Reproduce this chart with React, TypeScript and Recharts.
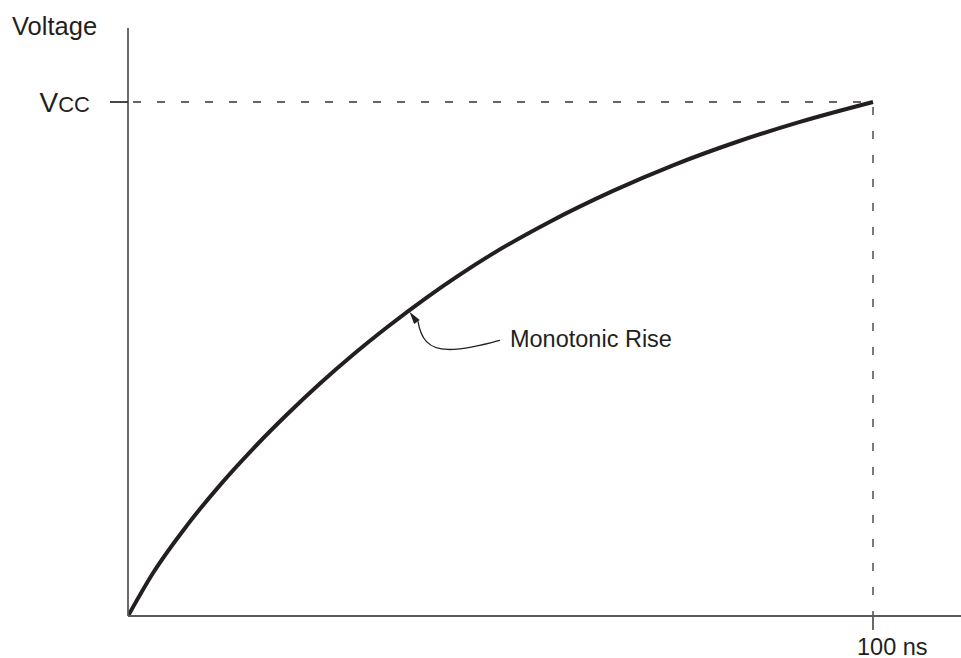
import React from 'react';
import { LineChart, Line, XAxis, YAxis, ReferenceLine, ReferenceDot } from 'recharts';

// Time in ns, voltage as a fraction of VCC
const timeNs = [0, 3.36, 7.92, 12.35, 16.78, 21.34, 25.77, 30.2, 34.77, 40.13, 44.3, 48.59, 56.38, 65.1, 73.15, 81.48, 90.2, 100];
const voltageFrac = [0, 0.0837, 0.1763, 0.2547, 0.3253, 0.392, 0.4523, 0.5082, 0.5617, 0.62, 0.6617, 0.7016, 0.7652, 0.827, 0.8768, 0.9212, 0.9613, 1.0];

const xTicks = [100];
const xTickLabels = ['100 ns'];
const yTicks = [1];
const yTickMain = 'V';
const yTickSub = 'CC';
const yAxisTitle = 'Voltage';
const annotationText = 'Monotonic Rise';
const annotationPoint = { t: 37.9, v: 0.589 };

const xMax = 111.81;
const yMax = 1.144;

const data = timeNs.map((t, i) => ({ t, v: voltageFrac[i] }));

const FONT = '"Liberation Sans", Arial, Helvetica, sans-serif';
const INK = '#231f20';
const AXIS = '#5a5a5a';

const YTick = (props: any) => {
  const { x, y } = props;
  return (
    <text x={x - 20} y={y + 10} textAnchor="end" fontFamily={FONT} fill={INK}>
      <tspan fontSize={28}>{yTickMain}</tspan>
      <tspan fontSize={22}>{yTickSub}</tspan>
    </text>
  );
};

const XTick = (props: any) => {
  const { x, y, payload } = props;
  const idx = xTicks.indexOf(payload.value);
  return (
    <text x={x - 16} y={y + 25} textAnchor="start" fontFamily={FONT} fontSize={23.5} fill={INK}>
      {idx >= 0 ? xTickLabels[idx] : ''}
    </text>
  );
};

const Annotation = (props: any) => {
  const { cx, cy } = props;
  if (cx == null || cy == null) return null;
  const p = (dx: number, dy: number) => `${cx + dx},${cy + dy}`;
  return (
    <g>
      <path
        d={`M ${p(7.6, 8)} C ${p(10.6, 25)} ${p(17.6, 36)} ${p(37.6, 36.2)} C ${p(54.6, 36.7)} ${p(74.6, 30.7)} ${p(89.6, 27.2)}`}
        fill="none"
        stroke={INK}
        strokeWidth={1.3}
      />
      <polygon points={`${p(-0.9, -1.6)} ${p(9.4, 6.7)} ${p(3.8, 10.7)}`} fill={INK} />
      <text x={cx + 99.6} y={cy + 33.7} fontFamily={FONT} fontSize={23.5} fill={INK}>
        {annotationText}
      </text>
    </g>
  );
};

export default function App() {
  return (
    <div style={{ position: 'absolute', left: 0, top: 0, width: 961, height: 658, background: '#fff' }}>
      <LineChart
        width={961}
        height={658}
        data={data}
        margin={{ top: 28, right: 0, bottom: 0, left: 0 }}
      >
        <XAxis
          dataKey="t"
          type="number"
          domain={[0, xMax]}
          ticks={xTicks}
          height={42}
          tickSize={14}
          tickMargin={0}
          axisLine={{ stroke: AXIS, strokeWidth: 1.8 }}
          tickLine={{ stroke: AXIS, strokeWidth: 1.8 }}
          tick={<XTick />}
          interval={0}
          allowDataOverflow
        />
        <YAxis
          dataKey="v"
          type="number"
          domain={[0, yMax]}
          ticks={yTicks}
          width={128}
          tickSize={18}
          tickMargin={0}
          axisLine={{ stroke: AXIS, strokeWidth: 1.8 }}
          tickLine={{ stroke: '#333', strokeWidth: 1.8 }}
          tick={<YTick />}
          interval={0}
          allowDataOverflow
          label={{
            content: () => (
              <text x={12} y={35} fontFamily={FONT} fontSize={25.5} fill={INK}>
                {yAxisTitle}
              </text>
            ),
          }}
        />
        <ReferenceLine
          segment={[{ x: 0, y: 1 }, { x: 100, y: 1 }]}
          stroke="#333"
          strokeWidth={1.3}
          strokeDasharray="8 16"
          strokeDashoffset={19}
          ifOverflow="visible"
        />
        <ReferenceLine
          segment={[{ x: 100, y: 1 }, { x: 100, y: 0 }]}
          stroke="#333"
          strokeWidth={1.3}
          strokeDasharray="8 16"
          strokeDashoffset={19}
          ifOverflow="visible"
        />
        <Line
          dataKey="v"
          type="monotone"
          stroke={INK}
          strokeWidth={4}
          dot={false}
          activeDot={false}
          isAnimationActive={false}
        />
        <ReferenceDot
          x={annotationPoint.t}
          y={annotationPoint.v}
          shape={<Annotation />}
          ifOverflow="visible"
        />
      </LineChart>
    </div>
  );
}
